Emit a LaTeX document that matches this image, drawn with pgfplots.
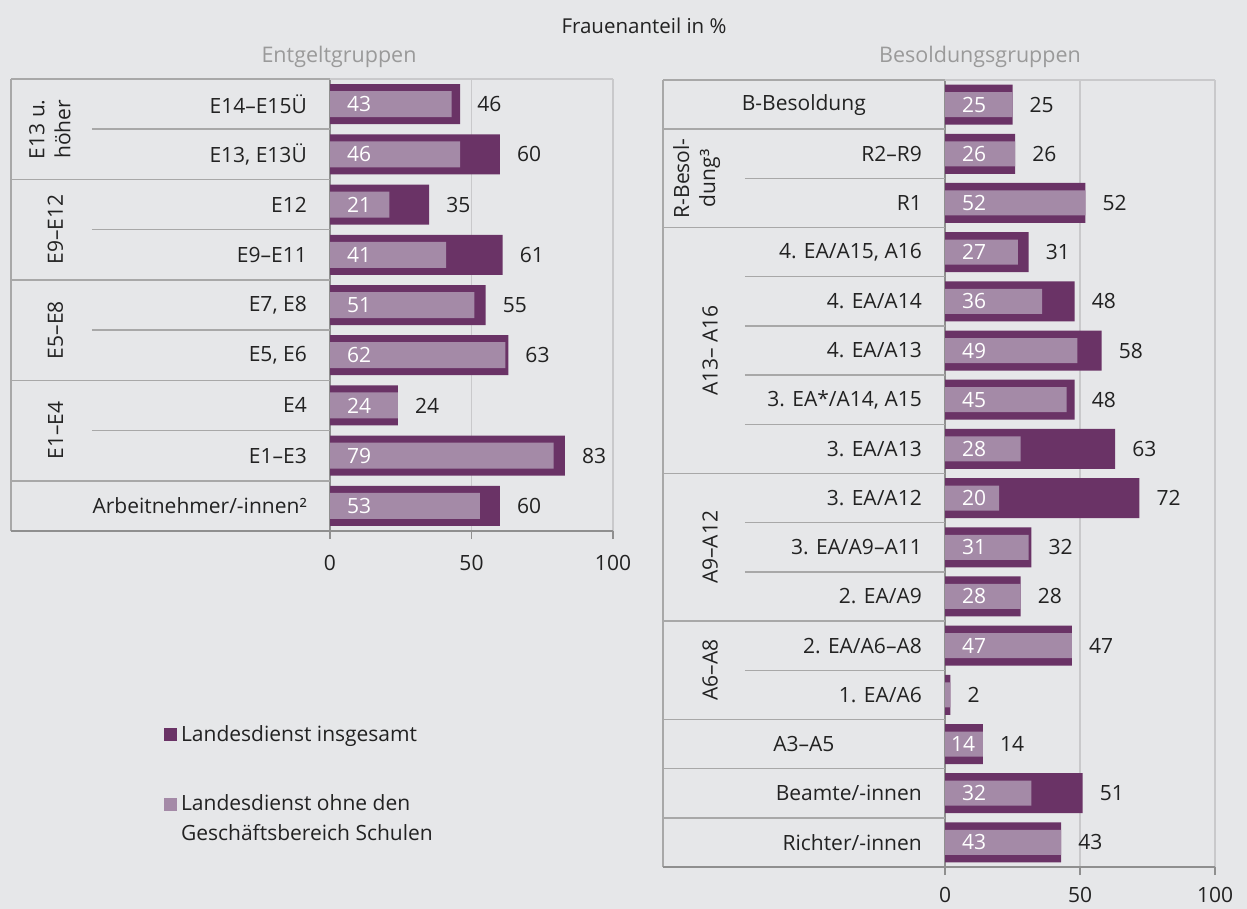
\documentclass[border=0pt]{standalone}
\usepackage{pgfplots}
\pgfplotsset{compat=1.18}
\usepackage{pgfplotstable}
\usepackage{fontspec}
\setmainfont{Open Sans}
\definecolor{bg}{HTML}{E6E7E9}
\definecolor{dark}{HTML}{6A3366}
\definecolor{light}{HTML}{A48AA7}
\definecolor{txt}{HTML}{222222}
\definecolor{tline}{HTML}{A8A8A8}
\definecolor{aline}{HTML}{8F8F8F}
\definecolor{gline}{HTML}{C9C9CB}
\definecolor{ttl}{HTML}{9A9A9A}
\newcommand\fs{\fontsize{21}{25}\selectfont}

\pgfplotstableread{
idx light dark
0 43 46
1 46 60
2 21 35
3 41 61
4 51 55
5 62 63
6 24 24
7 79 83
8 53 60
}\leftdata

\pgfplotstableread{
idx light dark
0 25 25
1 26 26
2 52 52
3 27 31
4 36 48
5 49 58
6 45 48
7 28 63
8 20 72
9 31 32
10 28 28
11 47 47
12 2 2
13 14 14
14 32 51
15 43 43
}\rightdata

\tikzset{tl/.style={tline, line width=1.5pt}}
\pgfplotsset{
  panel/.style={
    scale only axis, clip=false,
    xmin=0, xmax=100, y dir=reverse,
    axis x line*=bottom, axis y line*=left,
    axis line style={aline, line width=1.5pt},
    xtick={0,50,100}, tick align=outside, major tick length=8pt,
    xtick style={aline, line width=1.5pt},
    ytick style={draw=none},
    xmajorgrids, grid style={gline, line width=1.2pt},
    /pgf/number format/assume math mode=true,
    ticklabel style={font=\fs, text=txt},
    yticklabel style={inner sep=0pt, anchor=east, xshift=-15pt},
  },
  darkbar/.style={xbar, bar width=40pt, bar shift=0pt, fill=dark, draw=none,
    point meta=x, nodes near coords,
    every node near coord/.append style={anchor=west, inner sep=0pt, xshift=17pt, text=txt, font=\fs}},
  lightbar/.style={xbar, bar width=26pt, bar shift=0pt, fill=light, draw=none},
  lbl/.style={draw=none, mark=none, forget plot, point meta=explicit, nodes near coords,
    every node near coord/.append style={anchor=west, inner sep=0pt, xshift=#1, text=white, font=\fs}},
  lbl/.default=17pt,
}

\begin{document}
\begin{tikzpicture}[font=\fs]
\fill[bg] (0,0) rectangle (1247pt,909pt);
\node[text=txt, font=\fontsize{20.5}{24}\selectfont] at (644pt,883pt) {Frauenanteil in \%};
\node[text=ttl, font=\fontsize{21.5}{25}\selectfont] at (339pt,852pt) {Entgeltgruppen};
\node[text=ttl, font=\fontsize{21.5}{25}\selectfont] at (980pt,852pt) {Besoldungsgruppen};

% ---------- left panel ----------
\begin{axis}[panel, at={(330pt,378pt)}, anchor=south west,
  width=283pt, height=452pt, ymin=-0.5, ymax=8.5,
  xticklabel style={inner sep=0pt, yshift=-16.5pt},
  ytick={0,...,8},
  yticklabels={E14–E15Ü, {E13, E13Ü}, E12, E9–E11, {E7, E8}, {E5, E6}, E4, E1–E3, Arbeitnehmer/-innen²},
  legend style={draw=none, fill=none, at={(-0.587,-0.427)}, anchor=north west, inner sep=0pt,
    row sep=45pt, font=\fontsize{21}{30}\selectfont, text=txt,
    nodes={inner xsep=4pt, inner ysep=1pt, anchor=base west}},
  legend cell align=left,
  legend image code/.code={\fill[#1] (0pt,0pt) rectangle (13pt,13pt);},
]
\addplot[darkbar] table[x=dark, y=idx] {\leftdata};
\addlegendentry{Landesdienst insgesamt}
\addplot[lightbar] table[x=light, y=idx] {\leftdata};
\addlegendentry{\begin{tabular}[t]{@{}l@{}}Landesdienst ohne den\\Geschäftsbereich Schulen\end{tabular}}
\addplot[lbl] table[x expr=0, y=idx, meta=light] {\leftdata};
% table lines
\draw[tl] (axis cs:-112.7,-0.5) -- (axis cs:0,-0.5);
\draw[gline, line width=1.2pt] (axis cs:0,-0.5) -- (axis cs:100,-0.5);
\draw[tl] (axis cs:-112.7,-0.5) -- (axis cs:-112.7,8.5);
\draw[aline, line width=1.5pt] (axis cs:-112.7,8.5) -- (axis cs:0,8.5);
\pgfplotsinvokeforeach{1.5,3.5,5.5,7.5}{\draw[tl] (axis cs:-112.7,#1) -- (axis cs:0,#1);}
\pgfplotsinvokeforeach{0.5,2.5,4.5,6.5}{\draw[tl] (axis cs:-84.1,#1) -- (axis cs:0,#1);}
\node[rotate=90, align=center, text=txt, font=\fontsize{21}{26}\selectfont] at (axis cs:-99,0.5) {E13 u.\\höher};
\node[rotate=90, text=txt] at (axis cs:-97,2.5) {E9–E12};
\node[rotate=90, text=txt] at (axis cs:-97,4.5) {E5–E8};
\node[rotate=90, text=txt] at (axis cs:-97,6.5) {E1–E4};
\end{axis}

% ---------- right panel ----------
\begin{axis}[panel, at={(945pt,42pt)}, anchor=south west,
  width=270pt, height=787pt, ymin=-0.5, ymax=15.5,
  xticklabel style={inner sep=0pt, yshift=-12.5pt},
  ytick={0,...,15},
  yticklabels={\makebox[236pt][c]{B-Besoldung}, R2–R9, R1, {4. EA/A15, A16}, 4. EA/A14, 4. EA/A13, {3. EA*/A14, A15}, 3. EA/A13, 3. EA/A12, 3. EA/A9–A11, 2. EA/A9, 2. EA/A6–A8, 1. EA/A6, \makebox[236pt][c]{A3–A5}, Beamte/-innen, Richter/-innen},
]
\addplot[darkbar] table[x=dark, y=idx] {\rightdata};
\addplot[lightbar, bar width=25pt] table[x=light, y=idx] {\rightdata};
\addplot[lbl, skip coords between index={12}{14}] table[x expr=0, y=idx, meta=light] {\rightdata};
\addplot[lbl=6pt, skip coords between index={0}{13}, skip coords between index={14}{16}] table[x expr=0, y=idx, meta=light] {\rightdata};
\draw[tl] (axis cs:-104.4,-0.5) -- (axis cs:0,-0.5);
\draw[gline, line width=1.2pt] (axis cs:0,-0.5) -- (axis cs:100,-0.5);
\draw[tl] (axis cs:-104.4,-0.5) -- (axis cs:-104.4,15.5);
\draw[aline, line width=1.5pt] (axis cs:-104.4,15.5) -- (axis cs:0,15.5);
\pgfplotsinvokeforeach{0.5,2.5,7.5,10.5,12.5,13.5,14.5}{\draw[tl] (axis cs:-104.4,#1) -- (axis cs:0,#1);}
\pgfplotsinvokeforeach{1.5,3.5,4.5,5.5,6.5,8.5,9.5,11.5}{\draw[tl] (axis cs:-74.1,#1) -- (axis cs:0,#1);}
\node[rotate=90, align=center, text=txt, font=\fontsize{21}{26}\selectfont] at (axis cs:-92,1.5) {R-Besol-\\dung³};
\node[rotate=90, text=txt] at (axis cs:-87,5) {A13– A16};
\node[rotate=90, text=txt] at (axis cs:-87,9) {A9–A12};
\node[rotate=90, text=txt] at (axis cs:-87,11.5) {A6–A8};
\end{axis}
\pgfresetboundingbox
\path (0,0) rectangle (1247pt,909pt);
\end{tikzpicture}
\end{document}
